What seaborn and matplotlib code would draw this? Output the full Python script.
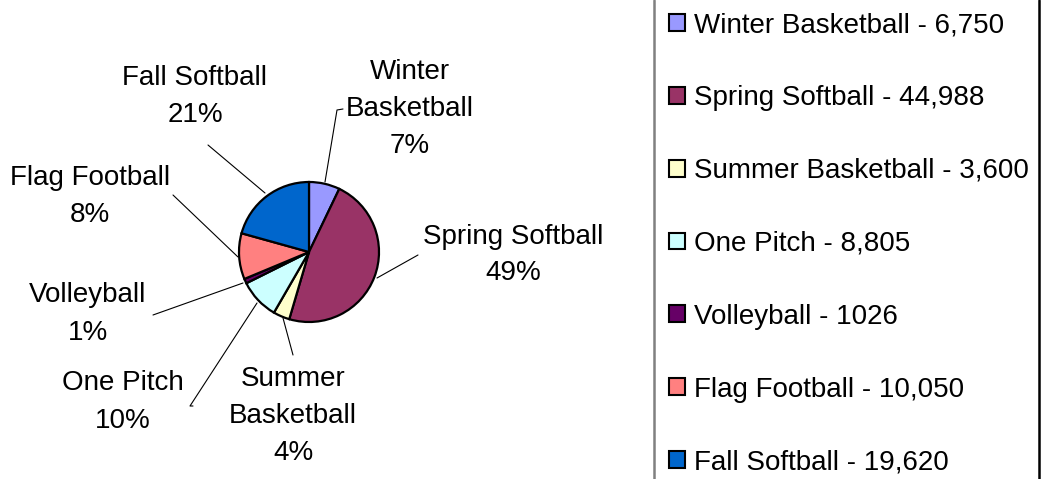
import matplotlib
matplotlib.use('Agg')
import matplotlib.pyplot as plt
import seaborn as sns

# --- dane ---
categories = ['Winter Basketball', 'Spring Softball', 'Summer Basketball',
              'One Pitch', 'Volleyball', 'Flag Football', 'Fall Softball']
values = [6750, 44988, 3600, 8805, 1026, 10050, 19620]
value_text = ['6,750', '44,988', '3,600', '8,805', '1026', '10,050', '19,620']
pct_labels = ['7%', '49%', '4%', '10%', '1%', '8%', '21%']
label_names = ['Winter\nBasketball', 'Spring Softball', 'Summer\nBasketball',
               'One Pitch', 'Volleyball', 'Flag Football', 'Fall Softball']
colors = ['#9999FF', '#993366', '#FFFFCC', '#CCFFFF', '#660066', '#FF8080', '#0066CC']

sns.set_style('white')
plt.rcParams['font.family'] = ['Liberation Sans', 'DejaVu Sans']
plt.rcParams['text.color'] = 'black'

W, H = 1042, 479
fig = plt.figure(figsize=(W / 100, H / 100), dpi=100)
ax = fig.add_axes([0, 0, 1, 1])

def fy(y):
    return H - y

cx, cy, r = 309, fy(252), 70
wedges, _ = ax.pie(values, colors=colors, startangle=90, counterclock=False,
                   center=(cx, cy), radius=r, frame=True,
                   wedgeprops=dict(edgecolor='black', linewidth=1.6))
ax.set_xlim(0, W)
ax.set_ylim(0, H)
ax.axis('off')

# etykiety z liniami odniesienia: (środek tekstu), (linia)
FS = 20
label_pos = [(410, 109), (513, 255), (293, 416), (123, 402), (88, 314), (90, 196), (195, 96)]
leaders = [
    [(343, 109), (337, 110), (325, 182)],
    [(418, 255), (377, 278)],
    [(293, 355), (283, 318)],
    [(193, 406), (190, 406), (257, 303)],
    [(153, 315), (243, 283)],
    [(173, 195), (238, 257)],
    [(208, 145), (265, 193)],
]
for name, pct, (tx, ty), pts in zip(label_names, pct_labels, label_pos, leaders):
    ax.text(tx, fy(ty), f'{name}\n{pct}', ha='center', va='center',
            fontsize=FS, linespacing=1.55, color='black')
    ax.plot([p[0] for p in pts], [fy(p[1]) for p in pts], color='black', lw=0.8)

# ramka legendy
ax.plot([654, 654], [0, H], color='#808080', lw=1.8)
ax.plot([1039, 1039], [0, H], color='black', lw=1.8)

leg_labels = [f'{c} - {v}' for c, v in zip(categories, value_text)]
leg = ax.legend(wedges, leg_labels, loc='upper left',
                bbox_to_anchor=(669 / W, fy(12) / H), frameon=False,
                fontsize=FS, labelcolor='black', handlelength=0.56,
                handleheight=0.56, handletextpad=0.34, labelspacing=1.69,
                borderpad=0, borderaxespad=0)
for h in leg.legend_handles:
    h.set_linewidth(1.5)

fig.savefig('out.png', dpi=100)
